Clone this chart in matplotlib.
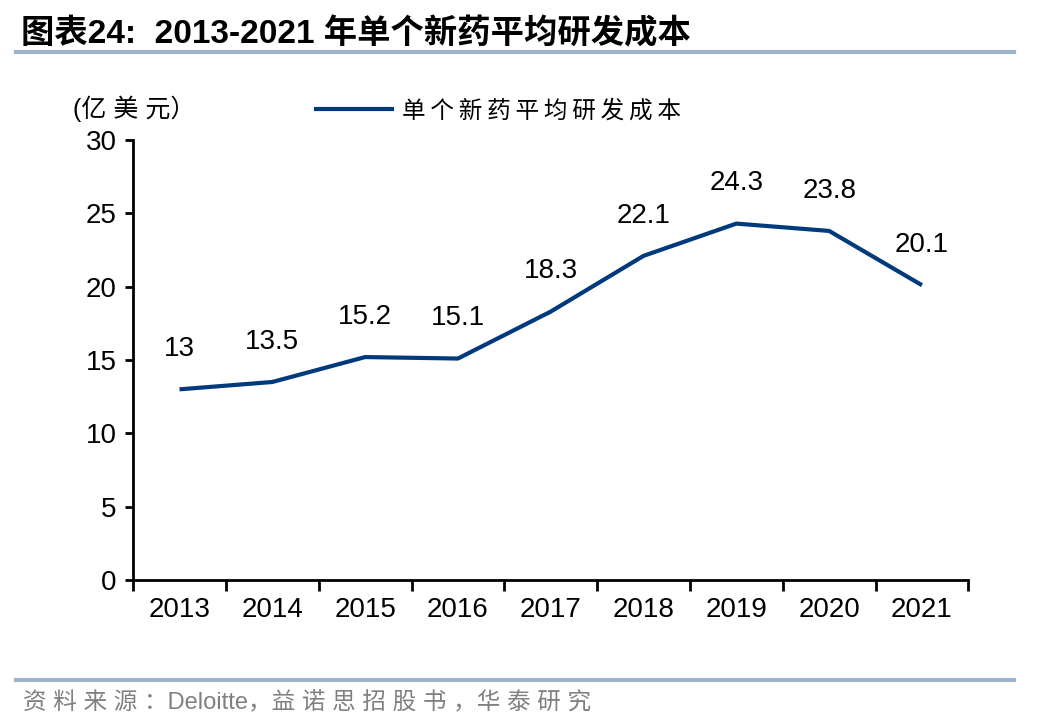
import numpy as np
import matplotlib.pyplot as plt
from matplotlib.lines import Line2D

plt.rcParams['font.family'] = ['Liberation Sans', 'Noto Sans CJK SC', 'DejaVu Sans']

# ── data ──────────────────────────────────────────────────────────────────────
years = ["2013", "2014", "2015", "2016", "2017", "2018", "2019", "2020", "2021"]
cost = [13, 13.5, 15.2, 15.1, 18.3, 22.1, 24.3, 23.8, 20.1]
value_labels = ["13", "13.5", "15.2", "15.1", "18.3", "22.1", "24.3", "23.8", "20.1"]
y_ticks = [0, 5, 10, 15, 20, 25, 30]

navy = "#003A7D"
rule = "#9DB1C9"
thin = "\u2009"


def spaced(s, sep=thin):
    return sep.join(s)


fig = plt.figure(figsize=(10.48, 7.28), dpi=100)
ax = fig.add_axes([0.127, 0.2033, 0.797, 0.6044])

x = np.arange(len(years))
ax.plot(x, cost, color=navy, linewidth=3, solid_capstyle="butt")
for xi, yi, lab in zip(x, cost, value_labels):
    ax.annotate(lab, (xi, yi), xytext=(0, 29), textcoords="offset points",
                ha="center", va="center", fontsize=20, color="black")

ax.set_xlim(-0.5, len(years) - 0.5)
ax.set_ylim(0, 30)
ax.set_yticks(y_ticks)
ax.set_yticklabels([str(t) for t in y_ticks], fontsize=20)
ax.set_xticks(x)
ax.set_xticklabels(years, fontsize=20)
ax.set_xticks(np.arange(-0.5, len(years)), minor=True)
ax.tick_params(axis="x", which="major", length=0, pad=12)
ax.tick_params(axis="x", which="minor", length=8, width=2, direction="out")
ax.tick_params(axis="y", length=6, width=2, direction="out", pad=6)
for side in ["top", "right"]:
    ax.spines[side].set_visible(False)
for side in ["left", "bottom"]:
    ax.spines[side].set_linewidth(2)

# unit label and legend
fig.text(0.070, 0.851, "(亿 美 元）", fontsize=18, ha="left", va="center")
fig.legend(handles=[Line2D([], [], color=navy, linewidth=3)],
           labels=[spaced("单个新药平均研发成本")], loc="center left",
           bbox_to_anchor=(0.281, 0.847), frameon=False, fontsize=17,
           handlelength=3.25, handletextpad=0.4)

# title and rules
fig.text(0.020, 0.953, "图表24:  2013-2021 年单个新药平均研发成本", fontsize=24,
         fontweight="bold", ha="left", va="center")
fig.add_artist(Line2D([0.015, 0.968], [0.928, 0.928], color=rule, linewidth=3))
fig.add_artist(Line2D([0.015, 0.968], [0.066, 0.066], color=rule, linewidth=3))
fig.text(0.022, 0.036, "资 料 来 源 ：Deloitte，益 诺 思 招 股 书 ，华 泰 研 究",
         fontsize=17, color="#808080", ha="left", va="center")

fig.savefig("out.png", dpi=100)
